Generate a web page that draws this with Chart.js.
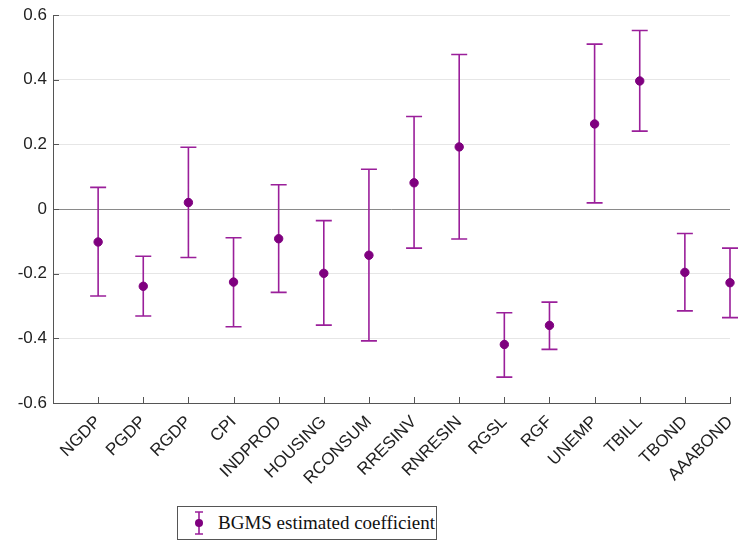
<!DOCTYPE html>
<html>
<head>
<meta charset="utf-8">
<script src="https://cdn.jsdelivr.net/npm/chart.js@4.4.1/dist/chart.umd.min.js"></script>
<style>
  html, body { margin: 0; padding: 0; background: #fff; }
  #wrap { position: relative; width: 740px; height: 546px; }
  #legend {
    position: absolute; left: 177px; top: 506px; width: 260px; height: 34px;
    border: 1px solid #555; background: #fff; box-sizing: border-box;
    font-family: "Liberation Serif", "DejaVu Serif", serif; font-size: 19px; color: #111;
    display: flex; align-items: center; white-space: nowrap;
  }
  #legend canvas { margin-left: 13px; margin-right: 11px; }
</style>
</head>
<body>
<div id="wrap">
  <canvas id="chart" width="740" height="546"></canvas>
  <div id="legend"><canvas id="legIcon" width="16" height="26"></canvas><span>BGMS estimated coefficient</span></div>
</div>
<script>
// --- data ---
const variables = ['NGDP', 'PGDP', 'RGDP', 'CPI', 'INDPROD', 'HOUSING', 'RCONSUM', 'RRESINV',
  'RNRESIN', 'RGSL', 'RGF', 'UNEMP', 'TBILL', 'TBOND', 'AAABOND'];
const coef =  [-0.102, -0.239, 0.020, -0.226, -0.092, -0.199, -0.143, 0.081, 0.192, -0.419, -0.360, 0.263, 0.396, -0.196, -0.228];
const upper = [0.067, -0.146, 0.191, -0.089, 0.075, -0.036, 0.123, 0.286, 0.478, -0.321, -0.288, 0.510, 0.552, -0.076, -0.121];
const lower = [-0.269, -0.331, -0.150, -0.364, -0.258, -0.359, -0.408, -0.121, -0.093, -0.520, -0.434, 0.019, 0.241, -0.315, -0.336];
const yTicks = [-0.6, -0.4, -0.2, 0, 0.2, 0.4, 0.6];

const markerColor = '#7f007f';
const barColor = '#9a1f9a';
const sansFont = '"Liberation Sans", Arial, Helvetica, sans-serif';

const points = coef.map((v, i) => ({ x: i + 1, y: v }));

// error bars, inside ticks and zero line drawn from the scales
const errorBars = {
  id: 'errorBars',
  beforeDatasetsDraw(chart) {
    const { ctx, chartArea, scales: { x, y } } = chart;
    ctx.save();
    // zero line
    ctx.strokeStyle = '#8a8a8a';
    ctx.lineWidth = 1;
    const y0 = Math.round(y.getPixelForValue(0)) + 0.5;
    ctx.beginPath();
    ctx.moveTo(chartArea.left, y0);
    ctx.lineTo(chartArea.right, y0);
    ctx.stroke();
    // inside ticks
    ctx.strokeStyle = '#555';
    ctx.beginPath();
    variables.forEach((_, i) => {
      const px = Math.round(x.getPixelForValue(i + 1)) + 0.5;
      ctx.moveTo(px, chartArea.bottom);
      ctx.lineTo(px, chartArea.bottom - 6);
    });
    yTicks.forEach(t => {
      const py = Math.round(y.getPixelForValue(t)) + 0.5;
      ctx.moveTo(chartArea.left, py);
      ctx.lineTo(chartArea.left + 6, py);
    });
    ctx.stroke();
    // error bars
    ctx.strokeStyle = barColor;
    ctx.lineWidth = 1.6;
    ctx.beginPath();
    coef.forEach((v, i) => {
      const px = x.getPixelForValue(i + 1);
      const pu = y.getPixelForValue(upper[i]);
      const pl = y.getPixelForValue(lower[i]);
      ctx.moveTo(px, pu);
      ctx.lineTo(px, pl);
      ctx.moveTo(px - 8, pu);
      ctx.lineTo(px + 8, pu);
      ctx.moveTo(px - 8, pl);
      ctx.lineTo(px + 8, pl);
    });
    ctx.stroke();
    ctx.restore();
  }
};

new Chart(document.getElementById('chart'), {
  type: 'scatter',
  data: {
    datasets: [{
      label: 'BGMS estimated coefficient',
      data: points,
      backgroundColor: markerColor,
      borderColor: markerColor,
      pointRadius: 4.2,
      pointHoverRadius: 4.2,
      clip: false,
    }]
  },
  options: {
    responsive: false,
    animation: false,
    layout: { padding: { top: 15, right: 10, left: 0, bottom: 0 } },
    plugins: { legend: { display: false }, tooltip: { enabled: false } },
    scales: {
      x: {
        type: 'linear',
        min: 0, max: 15,
        afterBuildTicks: axis => { axis.ticks = variables.map((_, i) => ({ value: i + 1 })); },
        afterFit: axis => { axis.height = 143; axis.paddingLeft = 0; axis.paddingRight = 0; },
        ticks: {
          autoSkip: false,
          minRotation: 45, maxRotation: 45,
          padding: 9,
          color: '#222',
          font: { family: sansFont, size: 17 },
          callback: v => variables[v - 1] || ''
        },
        grid: { display: false, drawTicks: false },
        border: { display: true, color: '#555', width: 1 }
      },
      y: {
        min: -0.6, max: 0.6,
        afterBuildTicks: axis => { axis.ticks = yTicks.map(v => ({ value: v })); },
        afterFit: axis => { axis.width = 53; axis.paddingTop = 0; axis.paddingBottom = 0; },
        ticks: {
          color: '#222',
          padding: 6,
          font: { family: sansFont, size: 17 },
          callback: v => (Math.abs(v) < 1e-9 ? '0' : String(Math.round(v * 10) / 10))
        },
        grid: { color: '#e6e6e6', drawTicks: false },
        border: { display: true, color: '#555', width: 1 }
      }
    }
  },
  plugins: [errorBars]
});

// legend icon
(function () {
  const c = document.getElementById('legIcon').getContext('2d');
  c.strokeStyle = barColor;
  c.lineWidth = 1.6;
  c.beginPath();
  c.moveTo(8, 2); c.lineTo(8, 24);
  c.moveTo(4, 2); c.lineTo(12, 2);
  c.moveTo(4, 24); c.lineTo(12, 24);
  c.stroke();
  c.fillStyle = markerColor;
  c.beginPath();
  c.arc(8, 13, 4, 0, Math.PI * 2);
  c.fill();
})();
</script>
</body>
</html>
